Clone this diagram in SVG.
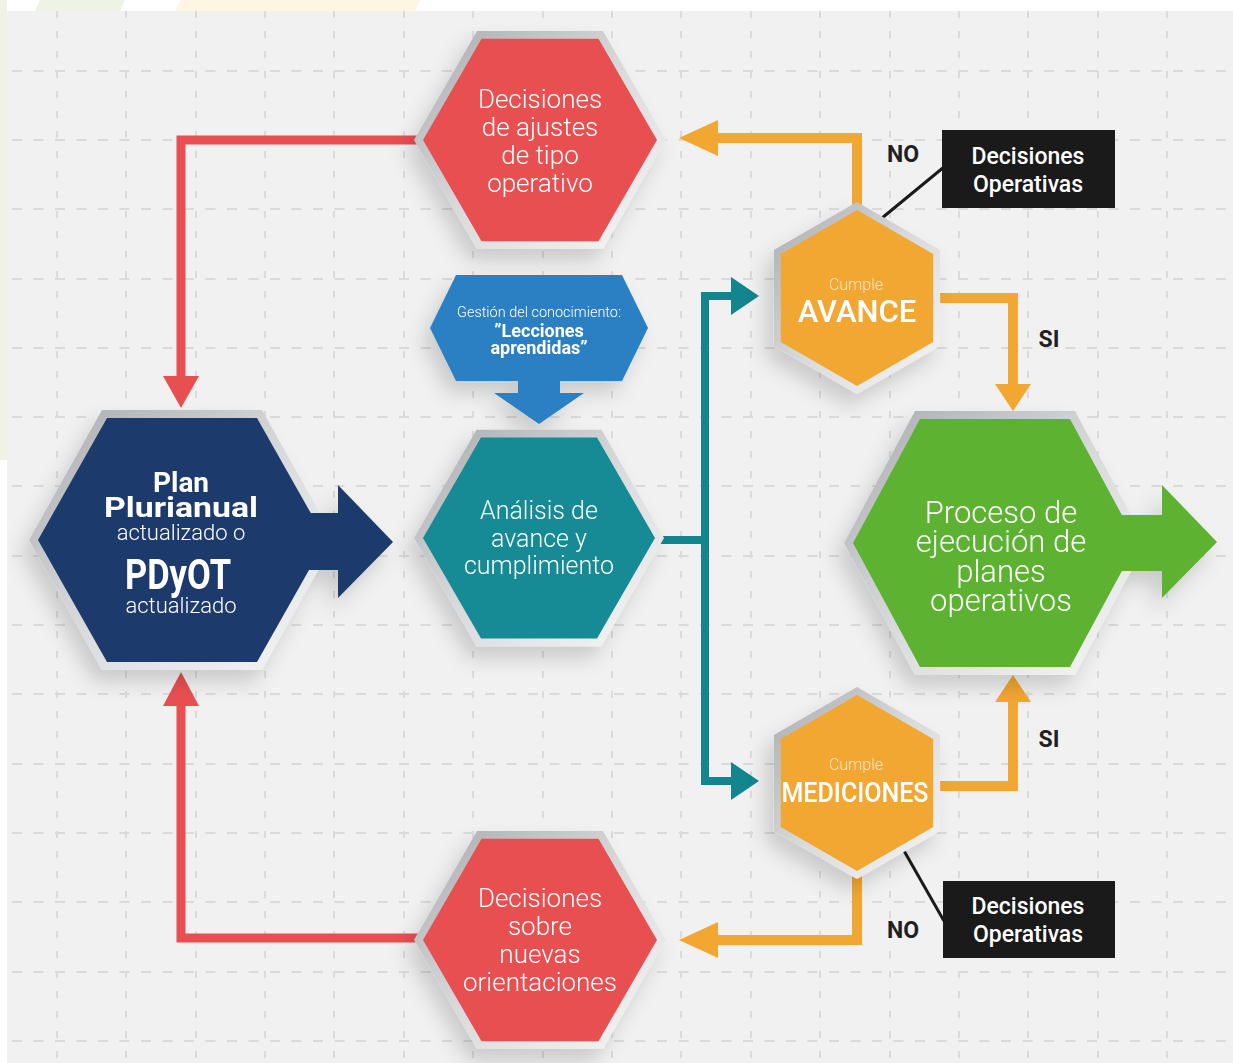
<svg xmlns="http://www.w3.org/2000/svg" width="1233" height="1063" viewBox="0 0 1233 1063">
<defs>
<linearGradient id="rim" x1="0" y1="0" x2="1" y2="1">
<stop offset="0" stop-color="#a9abae"/>
<stop offset="0.5" stop-color="#d9dadc"/>
<stop offset="1" stop-color="#f7f7f7"/>
</linearGradient>
<filter id="sh" x="-40%" y="-40%" width="180%" height="190%">
<feDropShadow dx="-8" dy="12" stdDeviation="10" flood-color="#000" flood-opacity="0.16"/>
</filter>
</defs>
<style>
.grid line{stroke:#dadada;stroke-width:2}
.gv line{stroke-dasharray:7 13}
.gh line{stroke-dasharray:10 11.5}
.rim{fill:url(#rim)}
.red{fill:#e84f51}
.teal{fill:#128b95}
.navy{fill:#1e3b6c}
.green{fill:#5db233}
.org{fill:#f2a732}
.lblue{fill:#2c80c2}
.t{font-family:Roboto,"Liberation Sans",sans-serif;fill:#ffffff;text-anchor:middle}
.lt{font-weight:300}
.bd{font-weight:700}
.md{font-weight:500}
.pale{fill:#fde6bd}
.dk{font-family:Roboto,"Liberation Sans",sans-serif;fill:#231f20;font-weight:700;font-size:23px;text-anchor:middle}
.cr{fill:none;stroke:#e84f51;stroke-width:9}
.co{fill:none;stroke:#f2a732;stroke-width:10}
.ct{fill:none;stroke:#12858f;stroke-width:8}
.ld{stroke:#1a1a1a;stroke-width:3}
</style>
<rect x="0" y="0" width="1233" height="1063" fill="#ffffff"/>
<rect x="0" y="0" width="7" height="460" fill="#eef3e6"/>
<polygon points="40,0 125,0 120,11 35,11" fill="#eef3e6"/>
<polygon points="180,0 420,0 415,11 175,11" fill="#fdf6e2"/>
<rect x="7" y="11" width="1226" height="1052" fill="#f1f1f1"/>
<g class="grid">
<g class="gv">
<line x1="57" y1="11" x2="57" y2="1063"/><line x1="126" y1="11" x2="126" y2="1063"/><line x1="196" y1="11" x2="196" y2="1063"/><line x1="265" y1="11" x2="265" y2="1063"/><line x1="334" y1="11" x2="334" y2="1063"/><line x1="404" y1="11" x2="404" y2="1063"/><line x1="473" y1="11" x2="473" y2="1063"/><line x1="543" y1="11" x2="543" y2="1063"/><line x1="612" y1="11" x2="612" y2="1063"/><line x1="681" y1="11" x2="681" y2="1063"/><line x1="751" y1="11" x2="751" y2="1063"/><line x1="820" y1="11" x2="820" y2="1063"/><line x1="890" y1="11" x2="890" y2="1063"/><line x1="959" y1="11" x2="959" y2="1063"/><line x1="1028" y1="11" x2="1028" y2="1063"/><line x1="1098" y1="11" x2="1098" y2="1063"/><line x1="1167" y1="11" x2="1167" y2="1063"/>
</g>
<g class="gh">
<line x1="12" y1="71" x2="1233" y2="71"/><line x1="12" y1="140" x2="1233" y2="140"/><line x1="12" y1="209" x2="1233" y2="209"/><line x1="12" y1="279" x2="1233" y2="279"/><line x1="12" y1="348" x2="1233" y2="348"/><line x1="12" y1="417" x2="1233" y2="417"/><line x1="12" y1="486" x2="1233" y2="486"/><line x1="12" y1="556" x2="1233" y2="556"/><line x1="12" y1="625" x2="1233" y2="625"/><line x1="12" y1="694" x2="1233" y2="694"/><line x1="12" y1="764" x2="1233" y2="764"/><line x1="12" y1="833" x2="1233" y2="833"/><line x1="12" y1="902" x2="1233" y2="902"/><line x1="12" y1="972" x2="1233" y2="972"/><line x1="12" y1="1041" x2="1233" y2="1041"/>
</g>
</g>

<g id="connectors">
<path class="cr" d="M423,140 H181 V380"/>
<polygon points="163,376 199,376 181,408" fill="#e84f51"/>
<path class="cr" d="M423,938 H181 V702"/>
<polygon points="163,706 199,706 181,672" fill="#e84f51"/>
<path class="co" d="M857,214 V138 H714"/>
<polygon points="718,120 718,156 679,138" fill="#f2a732"/>
<path class="co" d="M930,298 H1013 V388"/>
<polygon points="995,384 1031,384 1013,411" fill="#f2a732"/>
<path class="co" d="M930,786 H1013 V698"/>
<polygon points="995,702 1031,702 1013,675" fill="#f2a732"/>
<path class="co" d="M857,866 V940 H714"/>
<polygon points="718,922 718,958 679,940" fill="#f2a732"/>
<path class="ct" d="M655,540 H705 M705,292 V784 M701,296 H734 M701,781 H734"/>
<polygon points="731,277 731,315 759,296" fill="#12858f"/>
<polygon points="731,762 731,800 759,781" fill="#12858f"/>
<line class="ld" x1="882" y1="218" x2="944" y2="167"/>
<line class="ld" x1="903" y1="849" x2="944" y2="921"/>
</g>

<g id="n-ajustes" filter="url(#sh)">
<polygon class="rim" points="414,140 477,30.9 603,30.9 666,140 603,249.1 477,249.1"/>
<polygon class="red" points="423,140 481.5,38.7 598.5,38.7 657,140 598.5,241.3 481.5,241.3"/>
<text class="t lt" font-size="26"><tspan x="540" y="108">Decisiones</tspan><tspan x="540" y="136">de ajustes</tspan><tspan x="540" y="164">de tipo</tspan><tspan x="540" y="192">operativo</tspan></text>
</g>

<g id="n-orientaciones" filter="url(#sh)">
<polygon class="rim" points="414,940 477,830.9 603,830.9 666,940 603,1049.1 477,1049.1"/>
<polygon class="red" points="423,940 481.5,838.7 598.5,838.7 657,940 598.5,1041.3 481.5,1041.3"/>
<text class="t lt" font-size="26"><tspan x="540" y="907">Decisiones</tspan><tspan x="540" y="935">sobre</tspan><tspan x="540" y="963">nuevas</tspan><tspan x="540" y="991">orientaciones</tspan></text>
</g>

<g id="n-gestion" filter="url(#sh)">
<polygon class="lblue" points="430,328 456,275 622,275 648,328 622,381 456,381"/>
<polygon class="lblue" points="518,379 560,379 560,393 584,393 539,424 494,393 518,393"/>
<text class="t lt" font-size="14" x="539" y="317" textLength="164" lengthAdjust="spacingAndGlyphs">Gestión del conocimiento:</text>
<text class="t bd" font-size="18"><tspan x="539" y="337">”Lecciones</tspan><tspan x="539" y="354">aprendidas”</tspan></text>
</g>

<g id="n-analisis" filter="url(#sh)">
<polygon class="rim" points="414,538 476.5,429.7 601.5,429.7 664,538 601.5,646.3 476.5,646.3"/>
<polygon class="teal" points="423,538 481,437.5 597,437.5 655,538 597,638.5 481,638.5"/>
<text class="t lt" font-size="25"><tspan x="539" y="519">Análisis de</tspan><tspan x="539" y="547">avance y</tspan><tspan x="539" y="574">cumplimiento</tspan></text>
</g>

<g id="n-plan" filter="url(#sh)">
<polygon class="rim" points="29,540 102,410 262,410 335,540 262,670 102,670"/>
<polygon class="navy" points="38,540 107,418 257,418 326,540 257,662 107,662"/>
<polygon class="navy" points="300,513 338,513 338,485 393,542 338,598 338,570 300,570"/>
<text class="t bd" font-size="28"><tspan x="181" y="492">Plan</tspan><tspan x="181" y="517" textLength="154" lengthAdjust="spacingAndGlyphs">Plurianual</tspan></text>
<text class="t lt" font-size="22" x="181" y="540">actualizado o</text>
<text class="t bd" font-size="42" x="178" y="589" textLength="106" lengthAdjust="spacingAndGlyphs">PDyOT</text>
<text class="t lt" font-size="22" x="181" y="613">actualizado</text>
</g>

<g id="n-avance" filter="url(#sh)">
<polygon class="rim" points="857,202 940.1,250 940.1,346 857,394 773.9,346 773.9,250"/>
<polygon class="org" points="857,210 933.2,254 933.2,342 857,386 780.8,342 780.8,254"/>
<text class="t lt pale" font-size="16" x="856" y="290">Cumple</text>
<text class="t md" font-size="31" x="857" y="322">AVANCE</text>
</g>

<g id="n-mediciones" filter="url(#sh)">
<polygon class="rim" points="857,687 940.1,735 940.1,831 857,879 773.9,831 773.9,735"/>
<polygon class="org" points="857,695 933.2,739 933.2,827 857,871 780.8,827 780.8,739"/>
<text class="t lt pale" font-size="16" x="856" y="770">Cumple</text>
<text class="t md" font-size="28" x="855" y="802" textLength="147" lengthAdjust="spacingAndGlyphs">MEDICIONES</text>
</g>

<g id="n-proceso" filter="url(#sh)">
<polygon class="rim" points="844,543 915,411 1075,411 1146,543 1075,675 915,675"/>
<polygon class="green" points="853,543 920,419 1070,419 1137,543 1070,667 920,667"/>
<polygon class="green" points="1120,515 1162,515 1162,485 1217,542 1162,598 1162,571 1120,571"/>
<text class="t lt" font-size="31"><tspan x="1001" y="523">Proceso de</tspan><tspan x="1001" y="552">ejecución de</tspan><tspan x="1001" y="582">planes</tspan><tspan x="1001" y="611">operativos</tspan></text>
</g>

<g id="n-decop1">
<rect x="942" y="130" width="173" height="78" fill="#1a1a1a"/>
<text class="t md" font-size="23"><tspan x="1028" y="164">Decisiones</tspan><tspan x="1028" y="192">Operativas</tspan></text>
</g>
<g id="n-decop2">
<rect x="943" y="881" width="172" height="77" fill="#1a1a1a"/>
<text class="t md" font-size="23"><tspan x="1028" y="914">Decisiones</tspan><tspan x="1028" y="942">Operativas</tspan></text>
</g>

<g id="labels">
<text class="dk" x="903" y="162">NO</text>
<text class="dk" x="1049" y="347">SI</text>
<text class="dk" x="1049" y="747">SI</text>
<text class="dk" x="903" y="938">NO</text>
</g>
</svg>
